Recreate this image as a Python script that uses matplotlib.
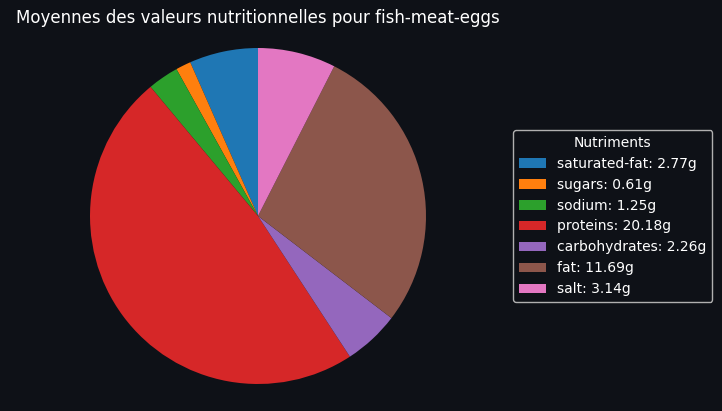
import matplotlib
matplotlib.use("Agg")
import matplotlib.pyplot as plt

# Data
nutrients = ["saturated-fat", "sugars", "sodium", "proteins", "carbohydrates", "fat", "salt"]
values = [2.77, 0.61, 1.25, 20.18, 2.26, 11.69, 3.14]
colors = ["#1f77b4", "#ff7f0e", "#2ca02c", "#d62728", "#9467bd", "#8c564b", "#e377c2"]
title = "Moyennes des valeurs nutritionnelles pour fish-meat-eggs"

BG = "#0e1117"

fig = plt.figure(figsize=(7.22, 4.11), dpi=100, facecolor=BG)
W, H = 722, 411
# square axes holding the pie (center ~258,216, radius ~168)
ax = fig.add_axes([90 / W, (H - 384) / H, 336 / W, 336 / H])
ax.set_facecolor(BG)

wedges, _ = ax.pie(values, colors=colors, startangle=90, radius=1.0)
ax.set_xlim(-1, 1)
ax.set_ylim(-1, 1)
ax.set_aspect("equal")
ax.axis("off")

fig.text(16 / W, 1 - 18 / H, title, color="white", fontsize=12, ha="left", va="center")

labels = [f"{n}: {v:.2f}g" for n, v in zip(nutrients, values)]
leg = fig.legend(wedges, labels, title="Nutriments", loc="center left",
                 bbox_to_anchor=(513 / W, 1 - 216 / H), fontsize=10, title_fontsize=10,
                 facecolor=BG, edgecolor="#b0b0b0", framealpha=1.0, borderaxespad=0)
for t in leg.get_texts():
    t.set_color("white")
leg.get_title().set_color("white")

fig.savefig("out.png", dpi=100, facecolor=BG)
